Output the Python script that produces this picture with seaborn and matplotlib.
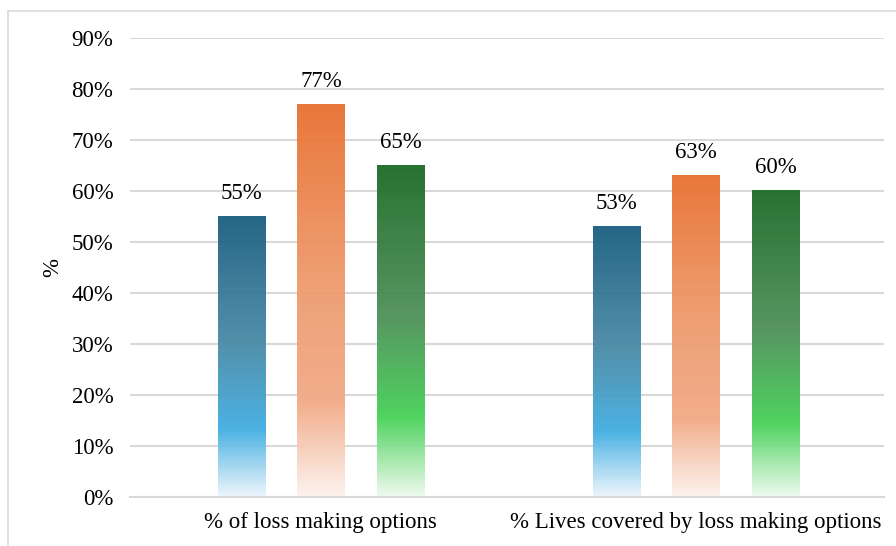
import matplotlib
matplotlib.use('Agg')
import matplotlib.pyplot as plt
import seaborn as sns
import numpy as np
import pandas as pd
from matplotlib.colors import to_rgb
from matplotlib.lines import Line2D

categories = ["% of loss making options", "% Lives covered by loss making options"]
series = ["Series 1", "Series 2", "Series 3"]
values_s1 = [55, 53]
values_s2 = [77, 63]
values_s3 = [65, 60]
ytick_values = [0, 10, 20, 30, 40, 50, 60, 70, 80, 90]
ytick_labels = [f"{v}%" for v in ytick_values]

# gradient stops per series: (top, mid, bright, bottom)
gradients = {
    "Series 1": ["#1a5e80", "#4a8aa6", "#42aee2", "#eef6fc"],
    "Series 2": ["#e87030", "#ee9a6c", "#f2aa86", "#fcf3ee"],
    "Series 3": ["#1c6b27", "#4e8f58", "#46d156", "#effbf0"],
}

df = pd.DataFrame({
    "category": categories * 3,
    "series": [series[0]] * 2 + [series[1]] * 2 + [series[2]] * 2,
    "value": values_s1 + values_s2 + values_s3,
})

sns.set_theme(style="white")
plt.rcParams['font.family'] = ['Liberation Serif', 'DejaVu Serif']

FS = 16.5

fig = plt.figure(figsize=(8.96, 5.46), dpi=100)
ax = fig.add_axes([130 / 896, 1 - 497 / 546, 753.5 / 896, 459 / 546])

sns.barplot(data=df, x="category", y="value", hue="series", hue_order=series,
            ax=ax, width=0.636, gap=0.4, legend=False, saturation=1,
            palette=[gradients[s][0] for s in series])

def make_grad(stops, n=300):
    pos = np.array([0.0, 0.45, 0.76, 1.0])
    cols = np.array([to_rgb(c) for c in stops])
    t = np.linspace(0, 1, n)
    arr = np.zeros((n, 1, 4))
    for k in range(3):
        arr[:, 0, k] = np.interp(t, pos, cols[:, k])
    arr[:, 0, 3] = 0.95
    return arr

for s, cont in zip(series, ax.containers):
    grad = make_grad(gradients[s])
    for bar in cont:
        x0, w, h = bar.get_x(), bar.get_width(), bar.get_height()
        bar.set_facecolor("none")
        bar.set_edgecolor("none")
        ax.imshow(grad, extent=[x0, x0 + w, 0, h], aspect="auto",
                  origin="upper", zorder=2, interpolation="bilinear")
    ax.bar_label(cont, labels=[f"{int(v.get_height())}%" for v in cont],
                 padding=9, fontsize=FS, color="#000000")

ax.set_xlim(-0.509, 1.5)
ax.set_ylim(0, 90)
ax.set_yticks(ytick_values)
ax.set_yticklabels(ytick_labels)
ax.yaxis.grid(True, color="#d9d9d9", linewidth=1.5, zorder=0)
ax.set_axisbelow(True)
for sp in ["top", "right", "left"]:
    ax.spines[sp].set_visible(False)
ax.spines["bottom"].set_color("#d9d9d9")
ax.spines["bottom"].set_linewidth(1.5)
ax.tick_params(axis="y", length=0, pad=12, labelsize=FS, colors="#000000")
ax.tick_params(axis="x", length=0, pad=11, labelsize=FS, colors="#000000")
ax.set_xlabel("")
ax.set_ylabel("%", fontsize=FS, color="#000000", labelpad=6)

# figure border (top and left)
fig.add_artist(Line2D([8 / 896, 1.0], [1 - 11 / 546, 1 - 11 / 546],
                      transform=fig.transFigure, color="#d9d9d9", lw=1.2))
fig.add_artist(Line2D([8 / 896, 8 / 896], [0.0, 1 - 11 / 546],
                      transform=fig.transFigure, color="#d9d9d9", lw=1.2))

fig.savefig("out.png", dpi=100)
